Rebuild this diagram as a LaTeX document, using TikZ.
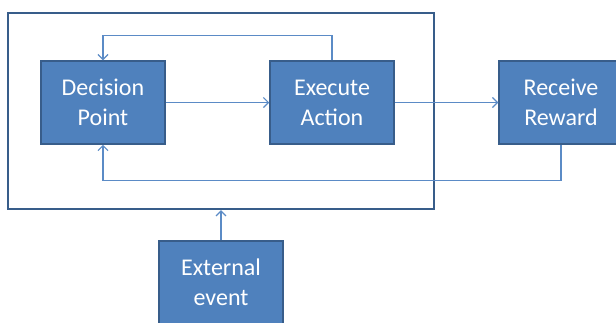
\documentclass[tikz,border=0pt]{standalone}
\usepackage{fontspec}
\setmainfont{Carlito}
\usetikzlibrary{arrows.meta}
\definecolor{boxfill}{HTML}{4F81BD}
\definecolor{boxedge}{HTML}{385D8A}
\definecolor{linecol}{HTML}{5B8BC6}
\tikzset{
  blk/.style={draw=boxedge,line width=1.5pt,fill=boxfill,text=white,
    minimum width=124pt,minimum height=83pt,inner sep=0pt,align=center,
    font=\fontsize{24}{30}\selectfont},
  flow/.style={draw=linecol,line width=1.2pt,-{Straight Barb[length=5pt,width=10pt]}}
}
\begin{document}
\begin{tikzpicture}[x=1pt,y=-1pt]
\useasboundingbox (0,0) rectangle (616,322);
\clip (0,0) rectangle (616,322);
\node[draw=boxedge,line width=2.2pt,minimum width=426pt,minimum height=196pt,inner sep=0pt] (frame) at (221,111) {};
\node[blk] (dec) at (103,102.5) {Decision\\Point};
\node[blk] (exec) at (332,102.5) {Execute\\Action};
\node[blk] (rew) at (561,102.5) {Receive\\Reward};
\node[blk] (ext) at (221,282.5) {External\\event};
\draw[flow] (exec.north) -- ++(0,-25) -| (dec.north);
\draw[flow] (dec.east) -- (exec.west);
\draw[flow] (exec.east) -- (rew.west);
\draw[flow] (rew.south) -- ++(0,36) -| (dec.south);
\draw[flow] (ext.north) -- (frame.south);
\end{tikzpicture}
\end{document}
